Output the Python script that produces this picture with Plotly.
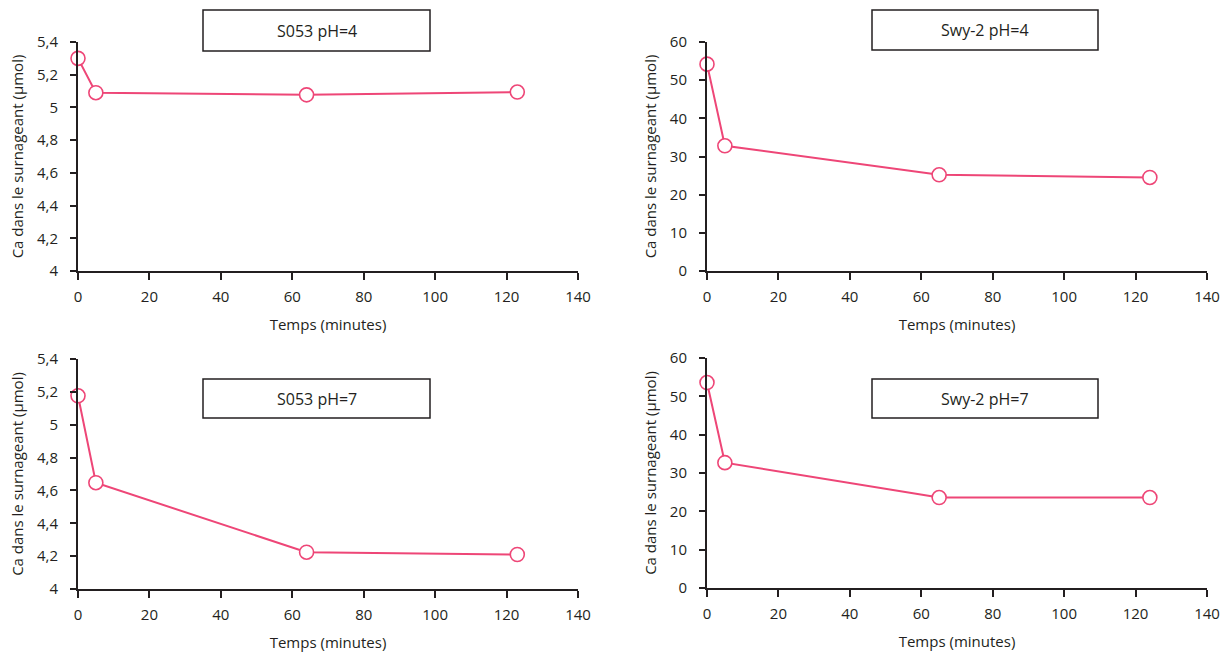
import plotly.graph_objects as go
from plotly.subplots import make_subplots

# Data
time_s053 = [0, 5, 64, 123]
ca_s053_ph4 = [5.30, 5.09, 5.077, 5.094]
ca_s053_ph7 = [5.176, 4.647, 4.224, 4.210]

time_swy = [0, 5, 65, 124]
ca_swy_ph4 = [54.2, 32.8, 25.2, 24.5]
ca_swy_ph7 = [53.6, 32.7, 23.6, 23.6]

titles = ["S053 pH=4", "Swy-2 pH=4", "S053 pH=7", "Swy-2 pH=7"]
x_title = "Temps (minutes)"
y_title = "Ca dans le surnageant (µmol)"

LINE = "#EE4677"
TXT = "#231f20"
FONT = "Open Sans"
W, H = 1229, 654

fig = make_subplots(rows=2, cols=2)

series = [
    (time_s053, ca_s053_ph4, 1, 1),
    (time_swy, ca_swy_ph4, 1, 2),
    (time_s053, ca_s053_ph7, 2, 1),
    (time_swy, ca_swy_ph7, 2, 2),
]
for xs, ys, r, c in series:
    fig.add_trace(go.Scatter(
        x=xs, y=ys, mode="lines+markers",
        line=dict(color=LINE, width=2),
        marker=dict(size=14, color="white", line=dict(color=LINE, width=1.6)),
        cliponaxis=False, showlegend=False,
    ), row=r, col=c)

def px_x(a, b):
    return [a / W, b / W]

def px_y(top, bottom):
    return [1 - bottom / H, 1 - top / H]

domains = {
    (1, 1): (px_x(78, 578), px_y(42, 271)),
    (1, 2): (px_x(707, 1207), px_y(42, 271)),
    (2, 1): (px_x(78, 578), px_y(359, 589)),
    (2, 2): (px_x(707, 1207), px_y(358, 588)),
}

axis_common = dict(
    showline=True, linecolor=TXT, linewidth=2,
    ticks="outside", tickwidth=1.5, tickcolor=TXT,
    showgrid=False, zeroline=False, automargin=False,
    tickfont=dict(family=FONT, size=15, color=TXT),
)

for (r, c), (dx, dy) in domains.items():
    fig.update_xaxes(domain=dx, range=[0, 140], dtick=20, tick0=0, ticklen=7,
                     ticklabelstandoff=4,
                     title=dict(text=x_title, font=dict(family=FONT, size=15, color=TXT), standoff=14),
                     row=r, col=c, **axis_common)
    if c == 1:
        yr, ydt = [4, 5.4], 0.2
    else:
        yr, ydt = [0, 60], 10
    fig.update_yaxes(domain=dy, range=yr, dtick=ydt, tick0=yr[0], ticklen=6,
                     ticklabelstandoff=9,
                     title=dict(text=y_title, font=dict(family=FONT, size=15, color=TXT), standoff=10),
                     row=r, col=c, **axis_common)

# Title boxes
boxes = [
    (titles[0], 203, 430, 10, 51),
    (titles[1], 872, 1098, 10, 50),
    (titles[2], 203, 430, 379, 418),
    (titles[3], 872, 1098, 379, 418),
]
for text, x0, x1, y0, y1 in boxes:
    fig.add_shape(type="rect", xref="paper", yref="paper",
                  x0=x0 / W, x1=x1 / W, y0=1 - y1 / H, y1=1 - y0 / H,
                  line=dict(color=TXT, width=1.5), fillcolor="white")
    fig.add_annotation(text=text, xref="paper", yref="paper",
                       x=(x0 + x1) / 2 / W, y=1 - (y0 + y1) / 2 / H,
                       showarrow=False, xanchor="center", yanchor="middle",
                       font=dict(family=FONT, size=16, color=TXT))

fig.update_layout(
    width=W, height=H,
    margin=dict(l=0, r=0, t=0, b=0, autoexpand=False),
    paper_bgcolor="white", plot_bgcolor="white",
    separators=", ",
    font=dict(family=FONT, size=15, color=TXT),
)

fig.write_html("out.html", config={"displayModeBar": False},
               post_script="document.body.style.margin='0';document.body.style.overflow='hidden';")
